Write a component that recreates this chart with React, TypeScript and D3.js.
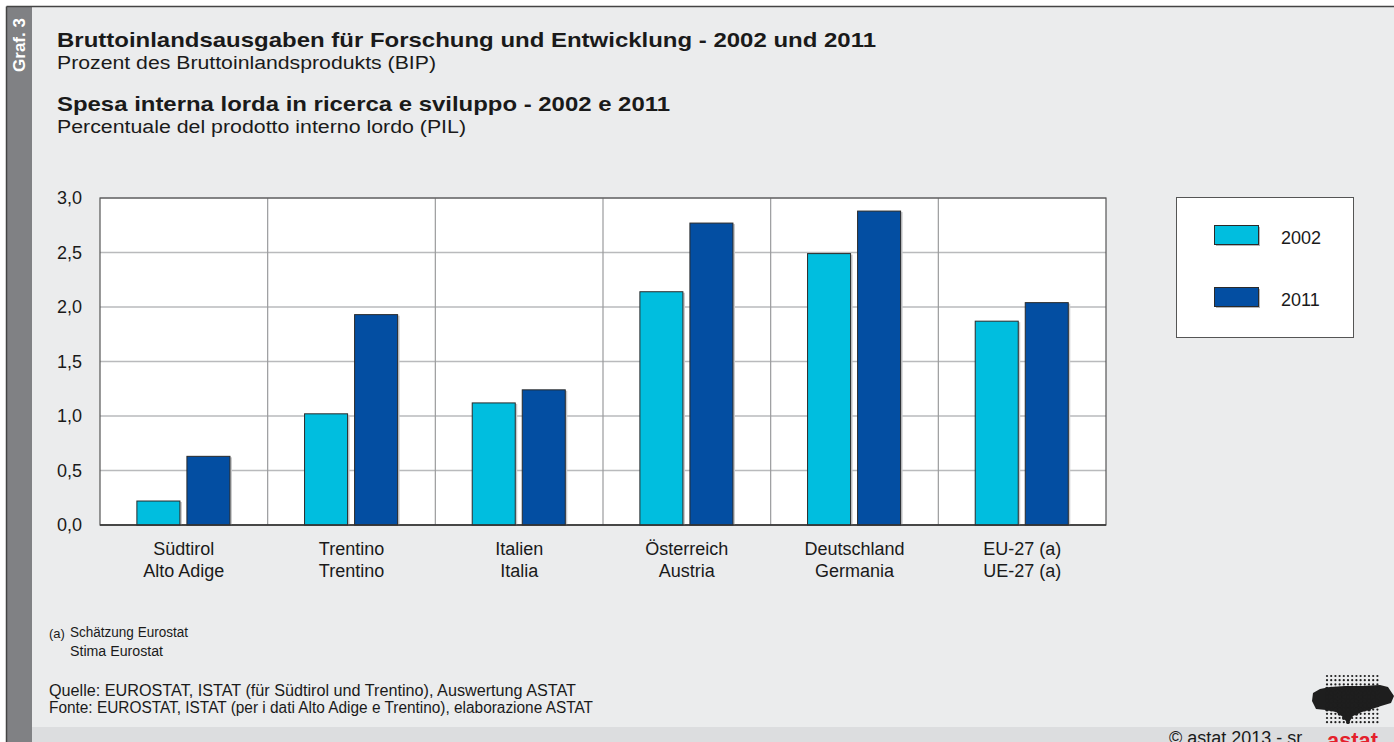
import { useMemo } from 'react';
import * as d3 from 'd3';

// Categories (two-line labels: German / Italian)
const regionsDe = ['Südtirol', 'Trentino', 'Italien', 'Österreich', 'Deutschland', 'EU-27 (a)'];
const regionsIt = ['Alto Adige', 'Trentino', 'Italia', 'Austria', 'Germania', 'UE-27 (a)'];

const years = ['2002', '2011'];
const values2002 = [0.22, 1.02, 1.12, 2.14, 2.49, 1.87];
const values2011 = [0.63, 1.93, 1.24, 2.77, 2.88, 2.04];

const yTicks = [0, 0.5, 1, 1.5, 2, 2.5, 3];

const colors: Record<string, string> = { '2002': '#00bedf', '2011': '#034ea2' };

const W = 1394;
const H = 742;
const plot = { left: 100, right: 1106, top: 198, bottom: 525 };

const fmt = (v: number) => v.toFixed(1).replace('.', ',');

export default function App() {
  const x0 = useMemo(
    () => d3.scaleBand<number>().domain(d3.range(regionsDe.length)).range([plot.left, plot.right]).padding(0),
    []
  );
  const y = useMemo(() => d3.scaleLinear().domain([0, 3]).range([plot.bottom, plot.top]), []);
  const bw = x0.bandwidth();
  const x1 = d3.scaleBand<string>().domain(years).range([bw * 0.22, bw * 0.775]).paddingInner(0.14);

  const series = [values2002, values2011];

  // logo: dot grid over a dark silhouette
  const blob: [number, number][] = [
    [1313, 693], [1320, 689], [1330, 687], [1345, 686], [1362, 686], [1380, 685], [1388, 687],
    [1394, 696], [1391, 703], [1381, 706], [1372, 709], [1362, 712], [1353, 716], [1348, 724],
    [1343, 717], [1336, 712], [1326, 710], [1316, 709], [1312, 701],
  ];
  const dots: { x: number; y: number; inside: boolean }[] = [];
  for (let dx = 1327; dx <= 1378; dx += 4.2) {
    for (let dy = 676; dy <= 725; dy += 4.2) {
      dots.push({ x: dx, y: dy, inside: d3.polygonContains(blob, [dx, dy]) });
    }
  }

  const font = 'Arial, "Liberation Sans", Helvetica, sans-serif';
  const ink = '#1a1a1a';

  return (
    <svg
      width={W}
      height={H}
      style={{ position: 'absolute', left: 0, top: 0, fontFamily: font }}
    >
      <rect x={0} y={0} width={W} height={H} fill="#ffffff" />
      <rect x={7} y={7} width={W - 7} height={H - 7} fill="#ebeced" />
      <rect x={32} y={727} width={W - 32} height={H - 727} fill="#dcdddf" />
      <rect x={7} y={7} width={25} height={H - 7} fill="#808184" />
      <line x1={6.5} y1={6.5} x2={W} y2={6.5} stroke="#444" strokeWidth={1.5} />
      <line x1={6.5} y1={6.5} x2={6.5} y2={H} stroke="#444" strokeWidth={1.5} />
      <text
        transform="translate(25,45) rotate(-90)"
        textAnchor="middle"
        fill="#ffffff"
        fontWeight="bold"
        fontSize={17}
      >
        Graf. 3
      </text>

      {/* titles */}
      <text x={57} y={47} fontSize={21} fontWeight="bold" fill={ink} textLength={819} lengthAdjust="spacingAndGlyphs">
        Bruttoinlandsausgaben für Forschung und Entwicklung - 2002 und 2011
      </text>
      <text x={57} y={69} fontSize={18} fill={ink} textLength={379} lengthAdjust="spacingAndGlyphs">
        Prozent des Bruttoinlandsprodukts (BIP)
      </text>
      <text x={57} y={111} fontSize={21} fontWeight="bold" fill={ink} textLength={613} lengthAdjust="spacingAndGlyphs">
        Spesa interna lorda in ricerca e sviluppo - 2002 e 2011
      </text>
      <text x={57} y={133} fontSize={18} fill={ink} textLength={409} lengthAdjust="spacingAndGlyphs">
        Percentuale del prodotto interno lordo (PIL)
      </text>

      {/* plot area */}
      <rect x={plot.left} y={plot.top} width={plot.right - plot.left} height={plot.bottom - plot.top} fill="#ffffff" />
      {yTicks.map((t) => (
        <g key={t}>
          <line x1={plot.left} x2={plot.right} y1={y(t)} y2={y(t)} stroke="#b9babc" strokeWidth={1.5} />
          <text x={82} y={y(t) + 6} textAnchor="end" fontSize={18} fill={ink}>
            {fmt(t)}
          </text>
        </g>
      ))}
      {d3.range(1, regionsDe.length).map((i) => (
        <line key={i} x1={x0(i)!} x2={x0(i)!} y1={plot.top} y2={plot.bottom} stroke="#9a9b9d" strokeWidth={1.2} />
      ))}
      <rect
        x={plot.left}
        y={plot.top}
        width={plot.right - plot.left}
        height={plot.bottom - plot.top}
        fill="none"
        stroke="#555"
        strokeWidth={1.2}
      />

      {/* bars */}
      {regionsDe.map((r, i) => (
        <g key={r} transform={`translate(${x0(i)},0)`}>
          {years.map((yr, k) => {
            const v = series[k][i];
            return (
              <g key={yr}>
                <rect
                  x={x1(yr)! + 2}
                  y={y(v) + 1}
                  width={x1.bandwidth()}
                  height={y(0) - y(v) - 1}
                  fill="#c8c9cb"
                />
                <rect
                  x={x1(yr)!}
                  y={y(v)}
                  width={x1.bandwidth()}
                  height={y(0) - y(v)}
                  fill={colors[yr]}
                  stroke="#2a2a2a"
                  strokeWidth={1}
                />
              </g>
            );
          })}
          <text x={bw / 2} y={555} textAnchor="middle" fontSize={18} fill={ink}>
            {r}
          </text>
          <text x={bw / 2} y={577} textAnchor="middle" fontSize={18} fill={ink}>
            {regionsIt[i]}
          </text>
        </g>
      ))}
      <line x1={plot.left} x2={plot.right} y1={plot.bottom} y2={plot.bottom} stroke="#333" strokeWidth={1.5} />

      {/* legend */}
      <rect x={1176.5} y={197.5} width={177} height={140} fill="#ffffff" stroke="#555" strokeWidth={1} />
      {years.map((yr, k) => (
        <g key={yr} transform={`translate(0,${k * 62})`}>
          <rect x={1216} y={227} width={44} height={19} fill="#b5b6b8" />
          <rect x={1214.5} y={225.5} width={44} height={19} fill={colors[yr]} stroke="#2a2a2a" strokeWidth={1} />
          <text x={1281} y={244} fontSize={18} fill={ink}>
            {yr}
          </text>
        </g>
      ))}

      {/* notes */}
      <text x={49} y={638} fontSize={13} fill={ink}>(a)</text>
      <text x={70} y={637} fontSize={14} fill={ink} textLength={118} lengthAdjust="spacingAndGlyphs">Schätzung Eurostat</text>
      <text x={70} y={656} fontSize={14} fill={ink} textLength={93} lengthAdjust="spacingAndGlyphs">Stima Eurostat</text>
      <text x={49} y={696} fontSize={16} fill={ink} textLength={527} lengthAdjust="spacingAndGlyphs">
        Quelle: EUROSTAT, ISTAT (für Südtirol und Trentino), Auswertung ASTAT
      </text>
      <text x={49} y={713} fontSize={16} fill={ink} textLength={544} lengthAdjust="spacingAndGlyphs">
        Fonte: EUROSTAT, ISTAT (per i dati Alto Adige e Trentino), elaborazione ASTAT
      </text>

      {/* copyright + logo */}
      <text x={1169} y={744} fontSize={18} fill={ink}>
        ©  astat 2013 - sr
      </text>
      <path d={'M' + blob.map((p) => p.join(',')).join('L') + 'Z'} fill="#1e1e1e" />
      {dots.map((d, i) => (
        <circle key={i} cx={d.x} cy={d.y} r={d.inside ? 1.9 : 1.1} fill="#1e1e1e" />
      ))}
      <text x={1327} y={748} fontSize={22} fontWeight="bold" fill="#e4202b" textLength={51} lengthAdjust="spacingAndGlyphs">
        astat
      </text>
    </svg>
  );
}
